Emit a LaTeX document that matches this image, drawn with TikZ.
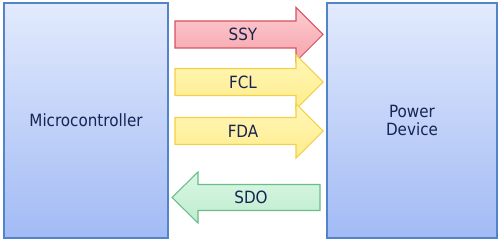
\documentclass[tikz,border=0pt]{standalone}
\usepackage{fontspec}
\setmainfont{DejaVu Sans Condensed}
\usetikzlibrary{shadows}
\definecolor{txt}{RGB}{24,36,82}
\definecolor{boxtop}{RGB}{226,234,252}
\definecolor{boxbot}{RGB}{162,187,245}
\definecolor{boxline}{RGB}{84,132,200}
\definecolor{redtop}{RGB}{252,204,208}
\definecolor{redbot}{RGB}{246,164,172}
\definecolor{redline}{RGB}{214,82,98}
\definecolor{yeltop}{RGB}{255,247,184}
\definecolor{yelbot}{RGB}{254,236,140}
\definecolor{yelline}{RGB}{244,208,70}
\definecolor{grntop}{RGB}{218,247,228}
\definecolor{grnbot}{RGB}{190,236,206}
\definecolor{grnline}{RGB}{104,190,134}
\tikzset{
  lbl/.style={text=txt, font=\fontsize{9.6pt}{10pt}\selectfont, align=center},
  box/.style={lbl, draw=boxline, line width=0.6pt, top color=boxtop, bottom color=boxbot,
    minimum width=3.28cm, minimum height=4.7cm, inner sep=0pt,
    drop shadow={opacity=0.25, shadow xshift=0.6pt, shadow yshift=-0.6pt}},
  redarrow/.style={draw=redline, line width=0.6pt, top color=redtop, bottom color=redbot, line join=miter},
  yelarrow/.style={draw=yelline, line width=0.6pt, top color=yeltop, bottom color=yelbot, line join=miter},
  grnarrow/.style={draw=grnline, line width=0.6pt, top color=grntop, bottom color=grnbot, line join=miter},
}
\begin{document}
\begin{tikzpicture}[x=0.02cm,y=-0.02cm]
\useasboundingbox (0,0) rectangle (500,243);
\node[box] (mc) at (86,120.5) {Microcontroller};
\node[box, minimum width=3.4cm] (pd) at (412,120.5) {Power\\Device};
% SSY
\shade[redarrow] (175,21) -- (296,21) -- (296,7.5) -- (323,34.5) -- (296,61.5) -- (296,48) -- (175,48) -- cycle;
\node[lbl] (ssy) at (243,34.5) {SSY};
% FCL
\shade[yelarrow] (175,68.5) -- (296,68.5) -- (296,55) -- (323,82) -- (296,109) -- (296,95.5) -- (175,95.5) -- cycle;
\node[lbl] (fcl) at (243,82) {FCL};
% FDA
\shade[yelarrow] (175,117.5) -- (296,117.5) -- (296,104) -- (323,131) -- (296,158) -- (296,144.5) -- (175,144.5) -- cycle;
\node[lbl] (fda) at (243,131) {FDA};
% SDO
\shade[grnarrow] (320,184.5) -- (198,184.5) -- (198,172) -- (172,197.5) -- (198,223) -- (198,210.5) -- (320,210.5) -- cycle;
\node[lbl] (sdo) at (251,197.5) {SDO};
\end{tikzpicture}
\end{document}
